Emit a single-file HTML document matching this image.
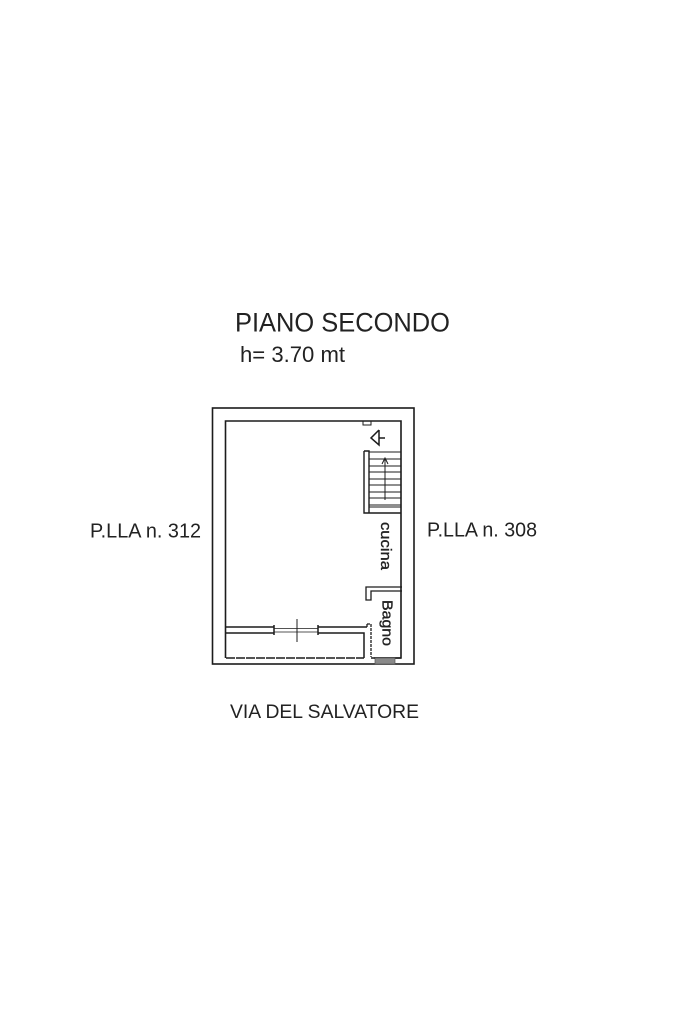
<!DOCTYPE html>
<html><head><meta charset="utf-8"><style>
html,body{margin:0;padding:0;background:#fff}
svg{display:block}
text{font-family:"Liberation Sans",sans-serif;fill:#222}
</style></head><body>
<svg width="683" height="1023" viewBox="0 0 683 1023" xmlns="http://www.w3.org/2000/svg">
<rect width="683" height="1023" fill="#fff"/>
<text x="235" y="331.5" font-size="26.5" textLength="215" lengthAdjust="spacingAndGlyphs">PIANO SECONDO</text>
<text x="240" y="362" font-size="22.5" textLength="105" lengthAdjust="spacingAndGlyphs">h= 3.70 mt</text>
<text x="90" y="537.5" font-size="20" textLength="111" lengthAdjust="spacingAndGlyphs">P.LLA n. 312</text>
<text x="427" y="536.5" font-size="20" textLength="110" lengthAdjust="spacingAndGlyphs">P.LLA n. 308</text>
<text x="230" y="718" font-size="19" textLength="189" lengthAdjust="spacingAndGlyphs">VIA DEL SALVATORE</text>
<text transform="translate(381,522) rotate(90)" font-size="15" textLength="48" lengthAdjust="spacingAndGlyphs" style="stroke:#222;stroke-width:.35">cucina</text>
<text transform="translate(382.5,600) rotate(90)" font-size="15" textLength="46" lengthAdjust="spacingAndGlyphs" style="stroke:#222;stroke-width:.35">Bagno</text>
<g fill="none" stroke="#1c1c1c" stroke-width="1.6">
<rect x="212.5" y="408" width="201.5" height="256"/>
<path d="M225.5 658V421H401V658H371"/>
<path d="M226 658H364" stroke-dasharray="9 1"/>
<path d="M374 658H401"/>
<path d="M364 451H369V513M364 451V513H401" stroke-width="1.4"/>
<path d="M369 452H401M369 459H401M369 466H401M369 472H401M369 479H401M369 485H401M369 492H401M369 498H401M369 505H401M369 507H401" stroke-width="1"/>
<path d="M385 458V500M382 464L385 458L388 464" stroke-width="1"/>
<path d="M379 430L371 438L379 445V430M379 438H385" stroke-width="1.5"/>
<path d="M363 421V425H371V421" stroke-width="1"/>
<path d="M402 587H366V600H371V591H402" stroke-width="1.3"/>
<path d="M226 627H274M318 627H367M226 633H274M318 633H364V658" stroke-width="1.5"/>
<path d="M274 625V635M318 625V635" stroke-width="1.5"/>
<path d="M274 628.5H318M274 632H318" stroke-width=".8"/>
<path d="M297 619V642" stroke-width="1"/>
<path d="M367 624H371V657M367 624V628" stroke-width="1.3" stroke-dasharray="3 1"/>
</g>
<rect x="375" y="658" width="20" height="6" fill="#8a8a8a" stroke="#555" stroke-width=".7"/>
</svg>
</body></html>
